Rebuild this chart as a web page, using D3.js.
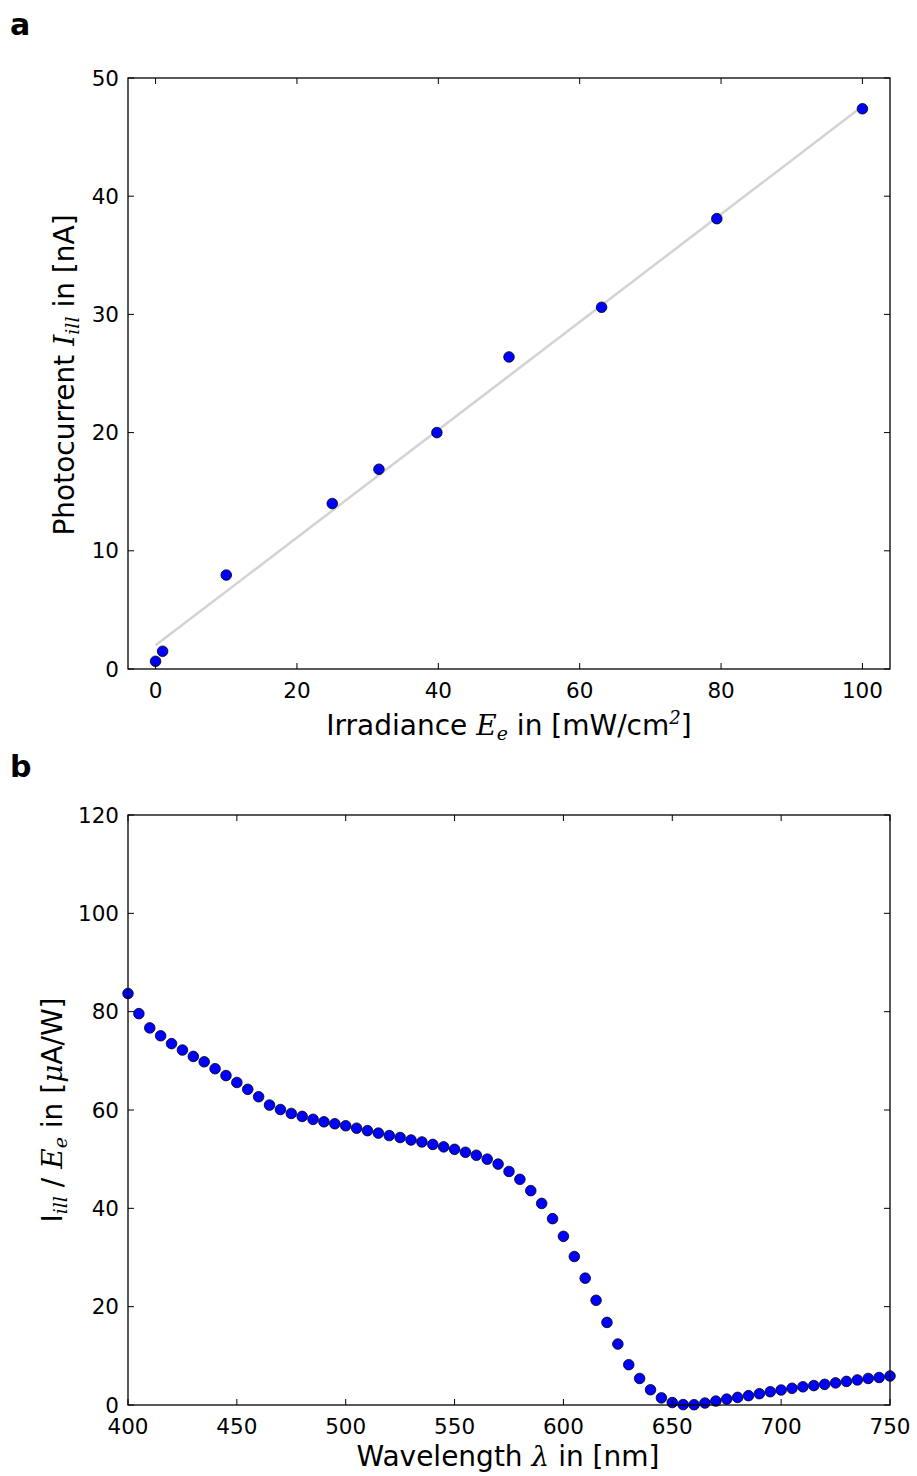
<!DOCTYPE html>
<html>
<head>
<meta charset="utf-8">
<script src="https://d3js.org/d3.v7.min.js"></script>
<style>
  body { margin: 0; background: #fff; }
  svg text { font-family: "DejaVu Sans", sans-serif; fill: #000; }
  .math { font-family: "DejaVu Serif", serif; font-style: italic; }
</style>
</head>
<body>
<svg id="chart" width="917" height="1476"></svg>
<script>
// Panel a: photocurrent vs irradiance
const irradiance = [0, 1, 10, 25, 31.6, 39.8, 50, 63.1, 79.4, 100];
const photocurrent = [0.65, 1.5, 7.95, 14.0, 16.9, 20.0, 26.4, 30.6, 38.1, 47.4];
const fitX = [0, 100];
const fitY = [2.0, 47.6];
const ticksA_x = [0, 20, 40, 60, 80, 100];
const ticksA_y = [0, 10, 20, 30, 40, 50];

// Panel b: responsivity spectrum
const wavelength = [400,405,410,415,420,425,430,435,440,445,450,455,460,465,470,475,480,485,490,495,
  500,505,510,515,520,525,530,535,540,545,550,555,560,565,570,575,580,585,590,595,
  600,605,610,615,620,625,630,635,640,645,650,655,660,665,670,675,680,685,690,695,
  700,705,710,715,720,725,730,735,740,745,750];
const responsivity = [83.7,79.6,76.7,75.1,73.5,72.2,70.9,69.8,68.4,67.0,65.6,64.2,62.7,61.0,60.1,59.3,58.7,58.1,57.6,57.2,
  56.8,56.3,55.8,55.3,54.8,54.4,53.9,53.5,53.0,52.5,52.0,51.4,50.8,50.0,49.0,47.5,45.9,43.6,41.0,37.9,
  34.3,30.2,25.8,21.3,16.8,12.4,8.2,5.4,3.1,1.45,0.5,0.08,0.06,0.4,0.8,1.2,1.55,1.9,2.3,2.7,
  3.05,3.4,3.7,3.95,4.2,4.5,4.8,5.1,5.4,5.6,5.9];
const ticksB_x = [400, 450, 500, 550, 600, 650, 700, 750];
const ticksB_y = [0, 20, 40, 60, 80, 100, 120];

const svg = d3.select('#chart');

function frame(g, x, y, xt, yt) {
  const [x0, x1] = x.range();
  const [y0, y1] = y.range();
  const tl = 6;
  // ticks inside on all four sides
  xt.forEach(t => {
    g.append('line').attr('x1', x(t)).attr('x2', x(t)).attr('y1', y0).attr('y2', y0 - tl).attr('stroke', '#000');
    g.append('line').attr('x1', x(t)).attr('x2', x(t)).attr('y1', y1).attr('y2', y1 + tl).attr('stroke', '#000');
    g.append('text').attr('x', x(t)).attr('y', y0 + 29).attr('text-anchor', 'middle')
      .attr('font-size', 21.5).text(t);
  });
  yt.forEach(t => {
    g.append('line').attr('x1', x0).attr('x2', x0 + tl).attr('y1', y(t)).attr('y2', y(t)).attr('stroke', '#000');
    g.append('line').attr('x1', x1).attr('x2', x1 - tl).attr('y1', y(t)).attr('y2', y(t)).attr('stroke', '#000');
    g.append('text').attr('x', x0 - 9).attr('y', y(t) + 7.5).attr('text-anchor', 'end')
      .attr('font-size', 21.5).text(t);
  });
  g.append('rect').attr('x', x0).attr('y', y1).attr('width', x1 - x0).attr('height', y0 - y1)
    .attr('fill', 'none').attr('stroke', '#000').attr('stroke-width', 1.3);
}

// ---- panel a ----
const xA = d3.scaleLinear().domain([-3.9, 103.9]).range([128, 890]);
const yA = d3.scaleLinear().domain([0, 50]).range([669, 78]);
const gA = svg.append('g');

const fitData = fitX.map((v, i) => ({ x: v, y: fitY[i] }));
gA.append('path').datum(fitData)
  .attr('d', d3.line().x(d => xA(d.x)).y(d => yA(d.y)))
  .attr('fill', 'none').attr('stroke', '#d3d3d3').attr('stroke-width', 2.5);

gA.selectAll('circle').data(irradiance.map((v, i) => ({ x: v, y: photocurrent[i] })))
  .enter().append('circle')
  .attr('cx', d => xA(d.x)).attr('cy', d => yA(d.y)).attr('r', 5.3)
  .attr('fill', '#0000ff').attr('stroke', '#000').attr('stroke-width', 0.8);

frame(gA, xA, yA, ticksA_x, ticksA_y);

svg.append('text').attr('x', 10).attr('y', 35).attr('font-size', 30).attr('font-weight', 'bold').text('a');

const xlA = svg.append('text').attr('x', 509).attr('y', 735).attr('text-anchor', 'middle').attr('font-size', 28);
xlA.append('tspan').text('Irradiance ');
xlA.append('tspan').attr('class', 'math').text('E');
xlA.append('tspan').attr('class', 'math').attr('font-size', 19).attr('dy', 5).text('e');
xlA.append('tspan').attr('dy', -5).text(' in [mW/cm');
xlA.append('tspan').attr('class', 'math').attr('font-style', 'normal').attr('font-size', 18).attr('dy', -11).text('2');
xlA.append('tspan').attr('dy', 11).text(']');

const ylA = svg.append('text').attr('transform', 'translate(74,375) rotate(-90)')
  .attr('text-anchor', 'middle').attr('font-size', 28);
ylA.append('tspan').text('Photocurrent ');
ylA.append('tspan').attr('class', 'math').text('I');
ylA.append('tspan').attr('class', 'math').attr('font-size', 19).attr('dy', 5).text('ill');
ylA.append('tspan').attr('dy', -5).text(' in [nA]');

// ---- panel b ----
const xB = d3.scaleLinear().domain([400, 750]).range([128, 890]);
const yB = d3.scaleLinear().domain([0, 120]).range([1405, 815]);
const gB = svg.append('g');

gB.selectAll('circle').data(wavelength.map((v, i) => ({ x: v, y: responsivity[i] })))
  .enter().append('circle')
  .attr('cx', d => xB(d.x)).attr('cy', d => yB(d.y)).attr('r', 5.3)
  .attr('fill', '#0000ff').attr('stroke', '#000').attr('stroke-width', 0.8);

frame(gB, xB, yB, ticksB_x, ticksB_y);

svg.append('text').attr('x', 10).attr('y', 777).attr('font-size', 30).attr('font-weight', 'bold').text('b');

const xlB = svg.append('text').attr('x', 508).attr('y', 1466).attr('text-anchor', 'middle').attr('font-size', 28);
xlB.append('tspan').text('Wavelength ');
xlB.append('tspan').attr('class', 'math').text('λ');
xlB.append('tspan').text(' in [nm]');

const ylB = svg.append('text').attr('transform', 'translate(62,1110) rotate(-90)')
  .attr('text-anchor', 'middle').attr('font-size', 28);
ylB.append('tspan').text('I');
ylB.append('tspan').attr('class', 'math').attr('font-size', 19).attr('dy', 5).text('ill');
ylB.append('tspan').attr('dy', -5).text(' / ');
ylB.append('tspan').attr('class', 'math').text('E');
ylB.append('tspan').attr('class', 'math').attr('font-size', 19).attr('dy', 5).text('e');
ylB.append('tspan').attr('dy', -5).text(' in [');
ylB.append('tspan').attr('class', 'math').text('μ');
ylB.append('tspan').text('A/W]');
</script>
</body>
</html>
